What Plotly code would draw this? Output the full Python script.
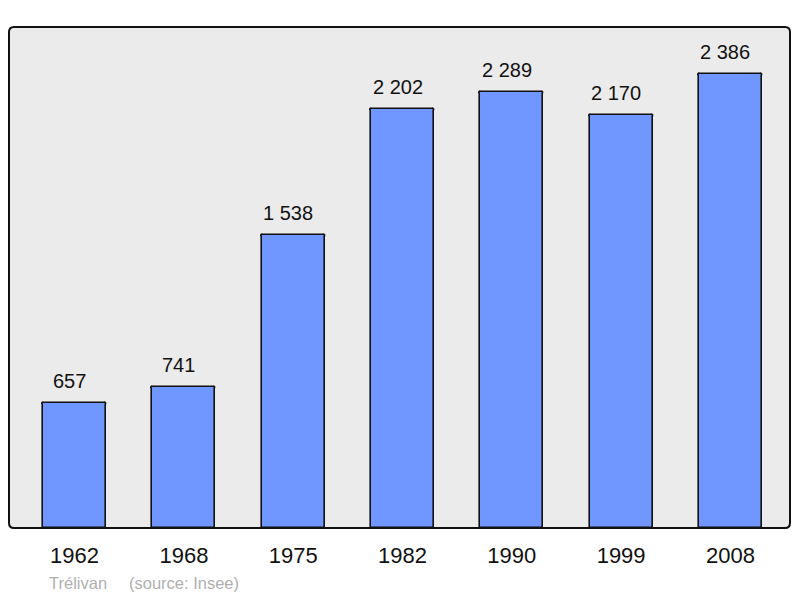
import plotly.graph_objects as go

years = ["1962", "1968", "1975", "1982", "1990", "1999", "2008"]
population = [657, 741, 1538, 2202, 2289, 2170, 2386]
commune = "Trélivan"
source = "(source: Insee)"

labels = [f"{v:,}".replace(",", " ") for v in population]

# page has an 8px body margin
W, H = 792, 590
L, T = 1, 19
R = W - (790 - 8)
B = H - (528 - 8)
pw, ph = W - L - R, H - T - B

fig = go.Figure()
fig.add_trace(go.Bar(
    x=list(range(len(years))), y=population,
    width=0.576,
    marker=dict(color="#7096ff", line=dict(color="#111111", width=1.6), cornerradius=2),
    hoverinfo="skip",
))

for i, (v, lab) in enumerate(zip(population, labels)):
    fig.add_annotation(x=i, y=v, text=lab, showarrow=False, yanchor="bottom",
                       yshift=9, xshift=-5, font=dict(size=20, color="#111111"))

# rounded frame
rx, ry = 5 / pw, 5 / ph
path = (f"M {rx},0 L {1-rx},0 Q 1,0 1,{ry} L 1,{1-ry} Q 1,1 {1-rx},1 "
        f"L {rx},1 Q 0,1 0,{1-ry} L 0,{ry} Q 0,0 {rx},0 Z")
fig.add_shape(type="path", path=path, xref="paper", yref="paper",
              fillcolor="#ebebeb", line=dict(color="#111111", width=2), layer="below")

fig.add_annotation(xref="paper", yref="paper", x=(47 - 9) / pw, y=-55 / ph,
                   text=commune, showarrow=False, xanchor="left", yanchor="middle",
                   font=dict(size=16.5, color="#b0b0b0"))
fig.add_annotation(xref="paper", yref="paper", x=(127 - 9) / pw, y=-55 / ph,
                   text=source, showarrow=False, xanchor="left", yanchor="middle",
                   font=dict(size=16.5, color="#b0b0b0"))

fig.update_layout(
    width=W, height=H,
    margin=dict(l=L, r=R, t=T, b=B, pad=0),
    paper_bgcolor="white", plot_bgcolor="rgba(0,0,0,0)",
    font=dict(family="Liberation Sans, Arial, sans-serif", color="#111111"),
    showlegend=False, bargap=0,
    xaxis=dict(range=[-0.60, 6.545], tickmode="array", tickvals=list(range(len(years))),
               ticktext=years, showgrid=False, zeroline=False, showline=False,
               ticks="outside", ticklen=8, tickcolor="rgba(0,0,0,0)",
               tickfont=dict(size=22, color="#111111"), fixedrange=True),
    yaxis=dict(range=[0, 2633], showgrid=False, zeroline=False, showline=False,
               showticklabels=False, fixedrange=True),
)

fig.write_html("out.html")
